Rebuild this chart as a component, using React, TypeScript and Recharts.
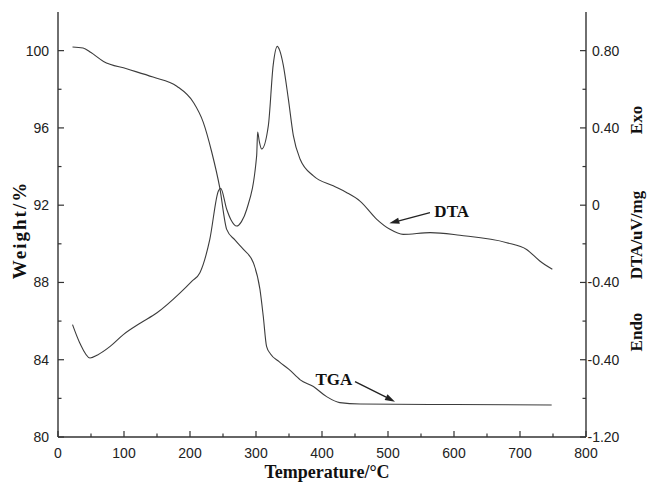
import React from "react";
import {
  LineChart,
  Line,
  XAxis,
  YAxis,
  Label,
  ReferenceLine,
  ReferenceDot,
} from "recharts";

// ---- data ----
const tgaTemp = [22, 38, 50, 69, 104, 144, 180, 205, 220, 233, 245, 255.6, 268, 281, 296, 306, 311, 316, 322, 335, 350, 367, 387, 407, 427, 458, 600, 748];
const tgaWeight = [100.19, 100.14, 99.9, 99.44, 99.06, 98.63, 98.16, 97.33, 96.3, 94.74, 92.92, 90.75, 90.2, 89.71, 89.02, 87.64, 86.25, 84.69, 84.3, 83.9, 83.5, 82.96, 82.61, 82.09, 81.78, 81.71, 81.68, 81.66];

const dtaTemp = [22, 33, 48.5, 60, 79, 99, 125, 150, 185, 203, 215, 230, 243, 246.5, 255.6, 262, 270.7, 278, 286, 301, 302.5, 305, 308.6, 318.7, 326, 332.3, 336, 341.4, 349, 356.6, 366.7, 387, 417, 437, 458, 483, 503, 523, 564, 609, 680, 710, 730, 749];
const dtaSignal = [-0.618, -0.713, -0.791, -0.775, -0.731, -0.67, -0.61, -0.557, -0.454, -0.393, -0.35, -0.177, 0.074, 0.087, -0.021, -0.075, -0.108, -0.085, -0.021, 0.256, 0.378, 0.33, 0.291, 0.412, 0.724, 0.822, 0.8, 0.724, 0.55, 0.36, 0.239, 0.152, 0.1, 0.066, 0.02, -0.073, -0.125, -0.151, -0.142, -0.156, -0.194, -0.229, -0.289, -0.332];

const xTicks = [0, 50, 100, 150, 200, 250, 300, 350, 400, 450, 500, 550, 600, 650, 700, 750, 800];
const leftTicks = [80, 82, 84, 86, 88, 90, 92, 94, 96, 98, 100];
const rightTicks = [-1.2, -1.0, -0.8, -0.6, -0.4, -0.2, 0, 0.2, 0.4, 0.6, 0.8];
const rightTickLabels = ["-1.20", "-0.40", "-0.40", "0", "0.40", "0.80"];

// annotation anchors (data coordinates: temperature, weight)
const dtaLabelPos = { t: 596.5, w: 91.69 };
const dtaArrow = [{ x: 563.6, y: 91.62 }, { x: 502, y: 91.06 }];
const tgaLabelPos = { t: 418, w: 82.96 };
const tgaArrow = [{ x: 450, y: 82.87 }, { x: 510.6, y: 81.83 }];

const tgaData = tgaTemp.map((t, i) => ({ t, w: tgaWeight[i] }));
const dtaData = dtaTemp.map((t, i) => ({ t, d: dtaSignal[i] }));

const INK = "#333";
const CURVE = "#3c3c3c";
const SANS = "'Liberation Sans', Arial, sans-serif";
const SERIF = "'Liberation Serif', 'Times New Roman', serif";

const XTick = (props: any) => {
  const { x, y, payload } = props;
  const v = payload.value;
  const major = v % 100 === 0;
  return (
    <g>
      <line x1={x} x2={x} y1={y} y2={y - (major ? 6 : 3.5)} stroke={INK} strokeWidth={1.2} />
      {major && (
        <text x={x} y={y + 21} textAnchor="middle" fontFamily={SANS} fontSize={14} fill="#222">
          {v}
        </text>
      )}
    </g>
  );
};

const LeftTick = (props: any) => {
  const { x, y, payload } = props;
  const v = payload.value;
  const major = (v - 80) % 4 === 0;
  return (
    <g>
      <line x1={x} x2={x + (major ? 6 : 3.5)} y1={y} y2={y} stroke={INK} strokeWidth={1.2} />
      {major && (
        <text x={x - 9} y={y + 5} textAnchor="end" fontFamily={SANS} fontSize={14} fill="#222">
          {v}
        </text>
      )}
    </g>
  );
};

const RightTick = (props: any) => {
  const { x, y, payload, index } = props;
  const major = index % 2 === 0;
  const label = major ? rightTickLabels[index / 2] : null;
  const neg = label && label.startsWith("-");
  return (
    <g>
      <line x1={x} x2={x - (major ? 6 : 3.5)} y1={y} y2={y} stroke={INK} strokeWidth={1.2} />
      {label && (
        <text x={x + (neg ? 1.5 : 6)} y={y + 5} textAnchor="start" fontFamily={SANS} fontSize={14} fill="#222">
          {label}
        </text>
      )}
    </g>
  );
};

const Arrow = (props: any) => {
  const { x1, y1, x2, y2 } = props;
  const dx = x2 - x1;
  const dy = y2 - y1;
  const len = Math.sqrt(dx * dx + dy * dy) || 1;
  const ux = dx / len;
  const uy = dy / len;
  const hl = 10;
  const hw = 3.2;
  const bx = x2 - ux * hl;
  const by = y2 - uy * hl;
  const pts = `${x2},${y2} ${bx - uy * hw},${by + ux * hw} ${bx + uy * hw},${by - ux * hw}`;
  return (
    <g>
      <line x1={x1} y1={y1} x2={bx} y2={by} stroke="#222" strokeWidth={1.3} />
      <polygon points={pts} fill="#222" />
    </g>
  );
};

const makeText = (txt: string) => (props: any) => {
  const { cx, cy } = props;
  return (
    <text x={cx} y={cy} textAnchor="middle" dominantBaseline="central" fontFamily={SERIF} fontWeight="bold" fontSize={17} fill="#111">
      {txt}
    </text>
  );
};

const XTitle = (props: any) => {
  const vb = props.viewBox || { x: 58, y: 437, width: 528, height: 47 };
  return (
    <text x={vb.x + vb.width / 2 + 5} y={vb.y + 41} textAnchor="middle" fontFamily={SERIF} fontWeight="bold" fontSize={18} fill="#111">
      Temperature/°C
    </text>
  );
};

const LeftTitle = (props: any) => {
  const cx = 19;
  const cy = 230;
  return (
    <text x={cx} y={cy} transform={`rotate(-90, ${cx}, ${cy})`} textAnchor="middle" dominantBaseline="central" fontFamily={SERIF} fontWeight="bold" fontSize={19} letterSpacing={2} fill="#111">
      Weight/%
    </text>
  );
};

const RightTitle = (props: any) => {
  const cx = 636;
  const parts = [
    { s: "Endo", cy: 332 },
    { s: "DTA/uV/mg", cy: 235 },
    { s: "Exo", cy: 120 },
  ];
  return (
    <g>
      {parts.map((p) => (
        <text key={p.s} x={cx} y={p.cy} transform={`rotate(-90, ${cx}, ${p.cy})`} textAnchor="middle" dominantBaseline="central" fontFamily={SERIF} fontWeight="bold" fontSize={17} fill="#111">
          {p.s}
        </text>
      ))}
    </g>
  );
};

export default function App() {
  return (
    <div style={{ position: "absolute", left: 0, top: 0, width: 647, height: 484, background: "#fff" }}>
      <LineChart width={647} height={484} margin={{ top: 12, right: 0, bottom: 0, left: 0 }}>
        <XAxis
          xAxisId="b"
          type="number"
          dataKey="t"
          domain={[0, 800]}
          ticks={xTicks}
          interval={0}
          height={47}
          tickSize={0}
          tickMargin={0}
          tickLine={false}
          axisLine={{ stroke: INK, strokeWidth: 1.4 }}
          tick={<XTick />}
          allowDataOverflow
        >
          <Label content={<XTitle />} />
        </XAxis>
        <XAxis
          xAxisId="t"
          orientation="top"
          type="number"
          domain={[0, 800]}
          height={0}
          tick={false}
          tickLine={false}
          axisLine={{ stroke: INK, strokeWidth: 1.4 }}
        />
        <YAxis
          yAxisId="l"
          type="number"
          domain={[80, 102]}
          ticks={leftTicks}
          interval={0}
          width={58}
          tickSize={0}
          tickMargin={0}
          tickLine={false}
          axisLine={{ stroke: INK, strokeWidth: 1.4 }}
          tick={<LeftTick />}
          allowDataOverflow
        >
          <Label content={<LeftTitle />} />
        </YAxis>
        <YAxis
          yAxisId="r"
          orientation="right"
          type="number"
          domain={[-1.2, 1.0]}
          ticks={rightTicks}
          interval={0}
          width={61}
          tickSize={0}
          tickMargin={0}
          tickLine={false}
          axisLine={{ stroke: INK, strokeWidth: 1.4 }}
          tick={<RightTick />}
          allowDataOverflow
        >
          <Label content={<RightTitle />} />
        </YAxis>
        <Line
          xAxisId="b"
          yAxisId="l"
          data={tgaData}
          dataKey="w"
          type="monotone"
          stroke={CURVE}
          strokeWidth={1.1}
          dot={false}
          isAnimationActive={false}
        />
        <Line
          xAxisId="b"
          yAxisId="r"
          data={dtaData}
          dataKey="d"
          type="monotone"
          stroke={CURVE}
          strokeWidth={1.1}
          dot={false}
          isAnimationActive={false}
        />
        <ReferenceLine xAxisId="b" yAxisId="l" segment={dtaArrow} shape={<Arrow />} ifOverflow="visible" />
        <ReferenceLine xAxisId="b" yAxisId="l" segment={tgaArrow} shape={<Arrow />} ifOverflow="visible" />
        <ReferenceDot xAxisId="b" yAxisId="l" x={dtaLabelPos.t} y={dtaLabelPos.w} r={0} shape={makeText("DTA")} ifOverflow="visible" />
        <ReferenceDot xAxisId="b" yAxisId="l" x={tgaLabelPos.t} y={tgaLabelPos.w} r={0} shape={makeText("TGA")} ifOverflow="visible" />
      </LineChart>
    </div>
  );
}
